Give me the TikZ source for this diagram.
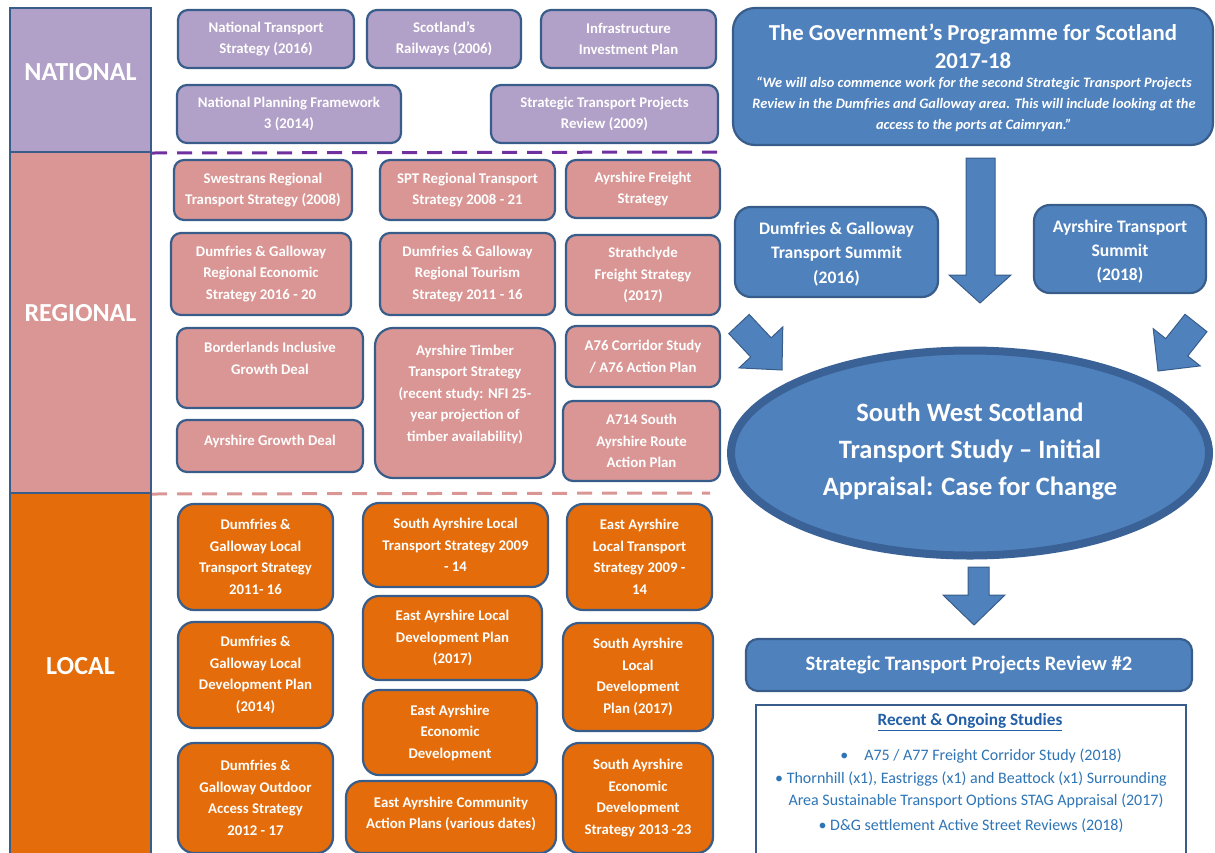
\documentclass[tikz,border=0pt]{standalone}
\usepackage{fontspec}
\setmainfont{Carlito}
\usetikzlibrary{shapes.geometric}
\definecolor{nat}{HTML}{B1A0C7}
\definecolor{reg}{HTML}{D99694}
\definecolor{loc}{HTML}{E46C0A}
\definecolor{bfill}{HTML}{4F81BD}
\definecolor{bline}{HTML}{385D8A}
\definecolor{eline}{HTML}{3A6296}
\definecolor{dpurple}{HTML}{7030A0}
\definecolor{txtblue}{HTML}{2E75B6}
\definecolor{headblue}{HTML}{2360A8}
\begin{document}
\begin{tikzpicture}[x=1pt,y=-1pt,
  sz/.style 2 args={minimum width=#1pt, minimum height=#2pt},
  box/.style={draw=bline, line width=2.2pt, rounded corners=10pt, inner sep=0pt, align=center, text=white,
    font=\fontsize{14.8}{21.5}\selectfont\bfseries},
  natbox/.style={box, fill=nat},
  regbox/.style={box, fill=reg},
  locbox/.style={box, fill=loc},
  bluebox/.style={box, fill=bfill},
  btext/.style={text=white, align=center, inner sep=0pt, font=\fontsize{14.8}{21.5}\selectfont\bfseries},
  band/.style={draw=bline, line width=2pt, inner sep=0pt},
  lab/.style={text=white, font=\fontsize{26}{30}\selectfont\bfseries, inner sep=0pt},
  pdash/.style={draw=dpurple, line width=3pt, dash pattern=on 15pt off 10pt},
  rdash/.style={draw=reg, line width=3pt, dash pattern=on 15pt off 10pt},
  barrow/.style={fill=bfill, draw=bline, line width=1pt, line join=miter},
  item/.style={text=txtblue, font=\fontsize{16}{21}\selectfont, inner sep=0pt}
]
\useasboundingbox (0,0) rectangle (1215,852);

% level bands
\node[band, fill=nat, sz={141}{144}] (bnat) at (80.5,80) {};
\node[band, fill=reg, sz={141}{341}] (breg) at (80.5,322.5) {};
\node[band, fill=loc, sz={141}{370}] (bloc) at (80.5,678) {};
\node[lab] (lnat) at (80.5,72) {NATIONAL};
\node[lab] (lreg) at (80.5,313) {REGIONAL};
\node[lab] (lloc) at (80.5,666) {LOCAL};

% separators
\coordinate (d1) at (722,152);
\coordinate (d2) at (710,493);
\draw[pdash] (bnat.south east) -- (d1);
\draw[rdash] (breg.south east) -- (d2);

% national
\node[natbox, sz={176}{58}] (n1) at (266,39) {National Transport\\Strategy (2016)};
\node[natbox, sz={154}{58}] (n2) at (444,39) {Scotland’s\\Railways (2006)};
\node[natbox, sz={175}{58}] (n3) at (628.5,39) {Infrastructure\\Investment Plan};
\node[natbox, sz={224}{58}] (n4) at (289,114) {National Planning Framework\\3 (2014)};
\node[natbox, sz={227}{58}] (n5) at (604.5,114) {Strategic Transport Projects\\Review (2009)};

% regional
\node[regbox, sz={178}{60}] (r1) at (263,190) {Swestrans Regional\\Transport Strategy (2008)};
\node[regbox, sz={175}{60}] (r2) at (467.5,190) {SPT Regional Transport\\Strategy 2008 - 21};
\node[regbox, sz={154}{58}] (r3) at (643,189) {Ayrshire Freight\\Strategy};
\node[regbox, sz={180}{82}] (r4) at (261,274) {Dumfries \& Galloway\\Regional Economic\\Strategy 2016 - 20};
\node[regbox, sz={175}{82}] (r5) at (467.5,274) {Dumfries \& Galloway\\Regional Tourism\\Strategy 2011 - 16};
\node[regbox, sz={154}{80}] (r6) at (643,275) {Strathclyde\\Freight Strategy\\(2017)};
\node[regbox, sz={186}{80}] (r7) at (270,368) {};
\node[btext] (r7t) at (270,358.5) {Borderlands Inclusive\\Growth Deal};
\node[regbox, sz={186}{52}] (r8) at (270,446) {};
\node[btext] (r8t) at (270,441) {Ayrshire Growth Deal};
\node[regbox, sz={180}{150}, rounded corners=18pt] (r9) at (465,403) {};
\node[btext] (r9t) at (465,394) {Ayrshire Timber\\Transport Strategy\\(recent study: NFI 25-\\year projection of\\timber availability)};
\node[regbox, sz={154}{61}] (r10) at (643,356.5) {A76 Corridor Study\\/ A76 Action Plan};
\node[regbox, sz={157}{80}] (r11) at (641.5,441) {A714 South\\Ayrshire Route\\Action Plan};

% local
\node[locbox, sz={155}{106}, rounded corners=16pt] (l1) at (255.5,557) {Dumfries \&\\Galloway Local\\Transport Strategy\\2011- 16};
\node[locbox, sz={185}{84}, rounded corners=16pt] (l2) at (455.5,545) {South Ayrshire Local\\Transport Strategy 2009\\- 14};
\node[locbox, sz={145}{106}, rounded corners=16pt] (l3) at (639.5,557) {East Ayrshire\\Local Transport\\Strategy 2009 -\\14};
\node[locbox, sz={155}{106}, rounded corners=16pt] (l4) at (255.5,675) {Dumfries \&\\Galloway Local\\Development Plan\\(2014)};
\node[locbox, sz={179}{84}, rounded corners=16pt] (l5) at (452.5,638) {East Ayrshire Local\\Development Plan\\(2017)};
\node[locbox, sz={150}{108}, rounded corners=16pt] (l6) at (638,677) {South Ayrshire\\Local\\Development\\Plan (2017)};
\node[locbox, sz={174}{85}, rounded corners=16pt] (l7) at (450,732.5) {East Ayrshire\\Economic\\Development};
\node[locbox, sz={155}{110}, rounded corners=16pt] (l8) at (255.5,798) {Dumfries \&\\Galloway Outdoor\\Access Strategy\\2012 - 17};
\node[locbox, sz={210}{72}, rounded corners=16pt] (l9) at (451,817) {};
\node[btext] (l9t) at (451,814) {East Ayrshire Community\\Action Plans (various dates)};
\node[locbox, sz={150}{110}, rounded corners=16pt] (l10) at (638,798) {South Ayrshire\\Economic\\Development\\Strategy 2013 -23};

% right side
\node[bluebox, sz={480}{137}, rounded corners=22pt] (gov) at (973,76.5) {};
\node[text=white, align=center, inner sep=0pt, font=\fontsize{22.8}{28}\selectfont\bfseries] (govt) at (973,46) {The Government’s Programme for Scotland\\2017-18};
\node[text=white, align=center, inner sep=0pt, font=\fontsize{14.4}{21}\selectfont\bfseries\itshape] (govq) at (974,104) {“We will also commence work for the second Strategic Transport Projects\\Review in the Dumfries and Galloway area. This will include looking at the\\access to the ports at Caimryan.”};

\node[bluebox, sz={203}{90}, rounded corners=16pt] (sum1) at (836.5,252) {};
\node[text=white, align=center, inner sep=0pt, font=\fontsize{17.6}{24.5}\selectfont\bfseries] (sum1t) at (836.5,254) {Dumfries \& Galloway\\Transport Summit\\(2016)};
\node[bluebox, sz={172}{88}, rounded corners=16pt] (sum2) at (1120,249) {};
\node[text=white, align=center, inner sep=0pt, font=\fontsize{17.6}{24}\selectfont\bfseries] (sum2t) at (1120,252) {Ayrshire Transport\\Summit\\(2018)};

\node[ellipse, draw=eline, line width=8pt, fill=bfill, sz={478}{205}, inner sep=0pt] (swst) at (970,453) {};
\node[text=white, align=center, inner sep=0pt, font=\fontsize{26.5}{37}\selectfont\bfseries] (swstt) at (970,451) {South West Scotland\\Transport Study – Initial\\Appraisal: Case for Change};

\node[bluebox, sz={446}{52}, rounded corners=12pt, font=\fontsize{20.6}{24}\selectfont\bfseries] (stpr) at (969,665) {Strategic Transport Projects Review \#2};

\node[draw=bline, line width=2pt, fill=white, sz={430}{160}, inner sep=0pt] (rec) at (971,785) {};
\node[text=headblue, inner sep=0pt, font=\fontsize{17.2}{20}\selectfont\bfseries] (rech) at (970,722) {\underline{Recent \& Ongoing Studies}};
\node[item] (rec1) at (981,756) {•\quad A75 / A77 Freight Corridor Study (2018)};
\node[item] (rec2) at (971,779) {• Thornhill (x1), Eastriggs (x1) and Beattock (x1) Surrounding};
\node[item] (rec3) at (976,801) {Area Sustainable Transport Options STAG Appraisal (2017)};
\node[item] (rec4) at (971,826) {• D\&G settlement Active Street Reviews (2018)};

% block arrows
\draw[barrow] (966,158) -- (995,158) -- (995,275) -- (1011,275) -- (980,303) -- (949,275) -- (966,275) -- cycle;
\draw[barrow] (749.2,314.4) -- (771.1,337.8) -- (782.8,326.9) -- (782,370) -- (739.0,367.9) -- (750.7,357.0) -- (728.8,333.6) -- cycle;
\draw[barrow] (1185.0,314.3) -- (1165.7,338.6) -- (1153.2,328.7) -- (1158,371) -- (1200.2,365.9) -- (1187.7,356.0) -- (1207.0,331.7) -- cycle;
\draw[barrow] (968,567) -- (989,567) -- (989,595) -- (1005,595) -- (974,625) -- (943,595) -- (968,595) -- cycle;
\end{tikzpicture}
\end{document}
